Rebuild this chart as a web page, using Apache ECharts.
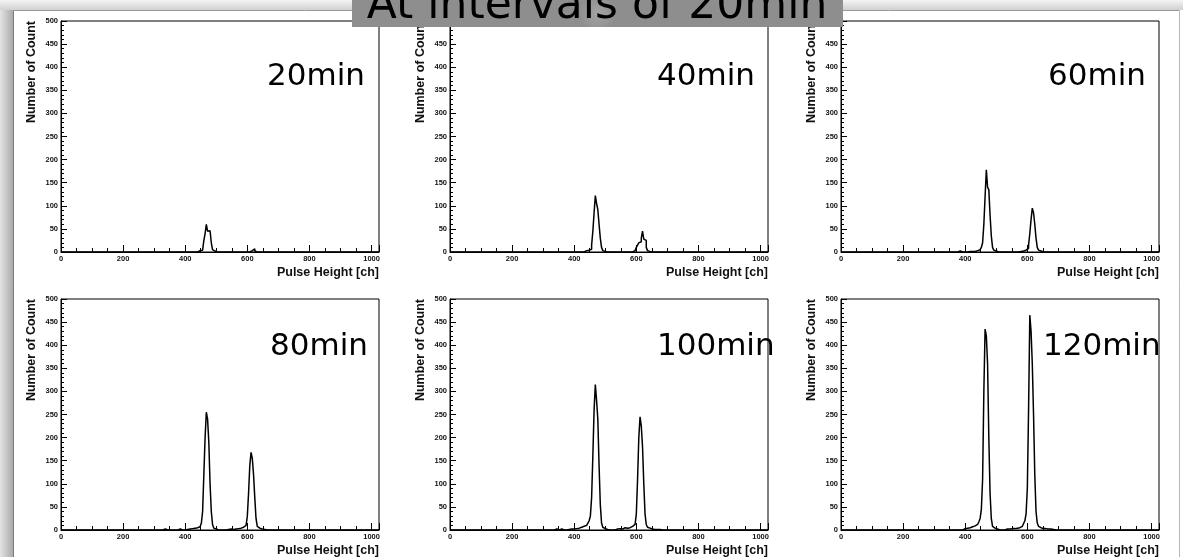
<!DOCTYPE html>
<html>
<head>
<meta charset="utf-8">
<script src="https://cdn.jsdelivr.net/npm/echarts@6/dist/echarts.min.js"></script>
<style>
html,body{margin:0;padding:0;background:#fff;}
#chart{width:1183px;height:557px;}
</style>
</head>
<body>
<div id="chart"></div>
<script>
// ---------------- DATA ----------------
const mainTitle = 'At intervals of 20min';
const panelLabels = ['20min', '40min', '60min', '80min', '100min', '120min'];
const xAxisTitle = 'Pulse Height [ch]';
const yAxisTitle = 'Number of Count';
const xTickLabels = [0, 200, 400, 600, 800, 1000];
const yTickLabels = [0, 50, 100, 150, 200, 250, 300, 350, 400, 450, 500];
const binWidth = 4;       // channels per bin
const channelMax = 1024;

// [bin start channel, count] — only non-empty bins
const h20 = [[440,2],[444,3],[448,3],[452,4],[456,8],[460,25],[464,40],[468,60],[472,45],[476,46],[480,42],[484,20],[488,5],[492,2],[496,3],
  [608,2],[612,3],[616,7],[620,7],[624,2]];
const h40 = [[432,2],[436,3],[440,3],[444,4],[448,5],[452,6],[456,15],[460,45],[464,85],[468,122],[472,105],[476,92],[480,60],[484,30],[488,10],[492,3],[496,1],
  [588,2],[592,3],[596,5],[600,10],[604,15],[608,20],[612,22],[616,30],[620,45],[624,28],[628,25],[632,10],[636,3],[640,1]];
const h60 = [[380,2],[412,1],[420,1],[424,2],[428,1],[432,2],[436,3],[440,4],[444,5],[448,7],[452,10],[456,20],[460,60],[464,120],[468,178],[472,140],[476,135],[480,80],[484,35],[488,10],[492,4],[496,2],[500,1],
  [576,1],[580,2],[584,2],[588,3],[592,4],[596,5],[600,8],[604,15],[608,40],[612,70],[616,95],[620,85],[624,60],[628,30],[632,10],[636,4],[640,2],[644,1]];
const h80 = [[332,2],[360,1],[380,2],[392,1],[400,2],[404,1],[408,2],[412,2],[416,3],[420,3],[424,4],[428,4],[432,5],[436,5],[440,6],[444,7],[448,9],[452,15],[456,40],[460,120],[464,200],[468,255],[472,240],[476,190],[480,100],[484,40],[488,12],[492,4],[496,2],[500,1],
  [536,1],[544,2],[552,1],[560,2],[568,3],[572,3],[576,4],[580,5],[584,6],[588,8],[592,10],[596,12],[600,30],[604,80],[608,140],[612,168],[616,155],[620,120],[624,70],[628,25],[632,8],[636,4],[640,3],[644,2],[648,1],[652,1]];
const h100 = [[340,2],[356,2],[380,1],[388,2],[392,1],[396,2],[400,2],[404,3],[408,3],[412,4],[416,5],[420,6],[424,7],[428,8],[432,9],[436,10],[440,12],[444,15],[448,20],[452,30],[456,70],[460,160],[464,260],[468,315],[472,280],[476,240],[480,140],[484,55],[488,15],[492,6],[496,3],[500,2],[504,1],
  [536,2],[544,3],[552,2],[560,5],[564,3],[568,4],[572,4],[576,5],[580,6],[584,8],[588,10],[592,12],[596,15],[600,35],[604,110],[608,200],[612,245],[616,225],[620,180],[624,100],[628,35],[632,12],[636,6],[640,4],[644,3],[648,2],[656,1],[664,1],[672,1]];
const h120 = [[320,2],[328,2],[336,1],[344,2],[352,2],[360,2],[368,1],[376,2],[384,2],[392,3],[396,3],[400,4],[404,4],[408,5],[412,5],[416,6],[420,7],[424,8],[428,9],[432,10],[436,12],[440,14],[444,18],[448,25],[452,45],[456,110],[460,300],[464,435],[468,420],[472,360],[476,200],[480,80],[484,25],[488,8],[492,4],[496,3],[500,2],
  [520,1],[532,2],[540,2],[548,3],[556,3],[564,4],[572,5],[576,6],[580,8],[584,10],[588,14],[592,20],[596,35],[600,90],[604,260],[608,465],[612,430],[616,360],[620,250],[624,120],[628,40],[632,15],[636,8],[640,5],[644,4],[648,3],[656,3],[664,2],[672,2],[680,1]];
const histograms = [h20, h40, h60, h80, h100, h120];

// ---------------- LAYOUT ----------------
const gridLefts = [61, 450, 841];
const gridTops = [21, 299];
const gridW = 318, gridH = 231;
const labelXs = [267, 657, 1048, 270, 657, 1043];
const labelYs = [77, 347];

function toSteps(pairs) {
  const n = channelMax / binWidth;
  const counts = new Array(n).fill(0);
  pairs.forEach(p => { counts[Math.round(p[0] / binWidth)] = p[1]; });
  const out = counts.map((c, i) => [i * binWidth, c]);
  out.push([channelMax, 0]);
  return out;
}

const grids = [], xAxes = [], yAxes = [], series = [], graphics = [];
const tickFont = {fontFamily: 'Liberation Sans, Arial, sans-serif', fontWeight: 'bold', fontSize: 7.5, color: '#111'};

for (let p = 0; p < 6; p++) {
  const col = p % 3, row = Math.floor(p / 3);
  const left = gridLefts[col], top = gridTops[row];
  grids.push({left: left, top: top, width: gridW, height: gridH, show: true, borderColor: '#000', borderWidth: 1, backgroundColor: 'transparent', containLabel: false});
  xAxes.push({
    type: 'value', gridIndex: p, min: 0, max: channelMax, interval: 200,
    axisLine: {show: true, lineStyle: {color: '#000', width: 1}},
    axisTick: {show: true, inside: true, length: 7, lineStyle: {color: '#000', width: 1}},
    minorTick: {show: true, splitNumber: 4, length: 4, lineStyle: {color: '#000', width: 1}},
    splitLine: {show: false}, minorSplitLine: {show: false},
    showMaxLabel: false,
    axisLabel: Object.assign({margin: 3, formatter: v => xTickLabels.includes(v) ? String(v) : ''}, tickFont)
  });
  yAxes.push({
    type: 'value', gridIndex: p, min: 0, max: 500, interval: 50,
    axisLine: {show: true, lineStyle: {color: '#000', width: 1}},
    axisTick: {show: true, inside: true, length: 6, lineStyle: {color: '#000', width: 1}},
    minorTick: {show: true, splitNumber: 5, length: 3, lineStyle: {color: '#000', width: 1}},
    splitLine: {show: false}, minorSplitLine: {show: false},
    axisLabel: Object.assign({margin: 3, formatter: v => yTickLabels.includes(v) ? String(v) : ''}, tickFont)
  });
  series.push({
    type: 'line', xAxisIndex: p, yAxisIndex: p, step: 'end', symbol: 'none', silent: true,
    lineStyle: {color: '#000', width: 1.5}, data: toSteps(histograms[p]), clip: true
  });
  // axis titles
  graphics.push({type: 'text', x: left + gridW, y: top + gridH + 21, style: {text: xAxisTitle, align: 'right', verticalAlign: 'middle', font: 'bold 12.5px "Liberation Sans", Arial, sans-serif', fill: '#111'}});
  graphics.push({type: 'text', x: left - 29, y: top, rotation: Math.PI / 2, style: {text: yAxisTitle, align: 'right', verticalAlign: 'middle', font: 'bold 12.5px "Liberation Sans", Arial, sans-serif', fill: '#111'}});
  // panel label
  graphics.push({type: 'text', x: labelXs[p], y: labelYs[row], z: 10, style: {text: panelLabels[p], align: 'left', verticalAlign: 'middle', font: '31px "DejaVu Sans", sans-serif', fill: '#000'}});
}

// frame & title box
const frame = [
  {type: 'rect', shape: {x: 0, y: 0, width: 14, height: 557}, style: {fill: new echarts.graphic.LinearGradient(0, 0, 1, 0, [{offset: 0, color: '#e4e4e4'}, {offset: 1, color: '#a6a6a6'}])}, z: -1},
  {type: 'rect', shape: {x: 0, y: 0, width: 1183, height: 10}, style: {fill: new echarts.graphic.LinearGradient(0, 0, 0, 1, [{offset: 0, color: '#f4f4f4'}, {offset: 1, color: '#d0d0d0'}])}, z: -1},
  {type: 'line', shape: {x1: 13.5, y1: 10, x2: 13.5, y2: 557}, style: {stroke: '#7a7a7a', lineWidth: 1}},
  {type: 'line', shape: {x1: 13, y1: 10.5, x2: 1180, y2: 10.5}, style: {stroke: '#9a9a9a', lineWidth: 1}},
  {type: 'line', shape: {x1: 1179.5, y1: 10, x2: 1179.5, y2: 557}, style: {stroke: '#b8b8b8', lineWidth: 1}},
  {type: 'rect', z: 20, shape: {x: 352, y: 0, width: 491, height: 27}, style: {fill: new echarts.graphic.RadialGradient(0.5, 0.5, 0.7, [{offset: 0, color: '#a4a4a4'}, {offset: 1, color: '#8e8e8e'}])}},
  {type: 'text', z: 21, x: 597, y: 7, style: {text: mainTitle, align: 'center', verticalAlign: 'middle', font: '44px "DejaVu Sans", sans-serif', fill: '#000'}}
];

const chart = echarts.init(document.getElementById('chart'), null, {renderer: 'canvas'});
chart.setOption({
  animation: false,
  backgroundColor: '#fff',
  grid: grids, xAxis: xAxes, yAxis: yAxes, series: series,
  graphic: frame.concat(graphics)
});
</script>
</body>
</html>
